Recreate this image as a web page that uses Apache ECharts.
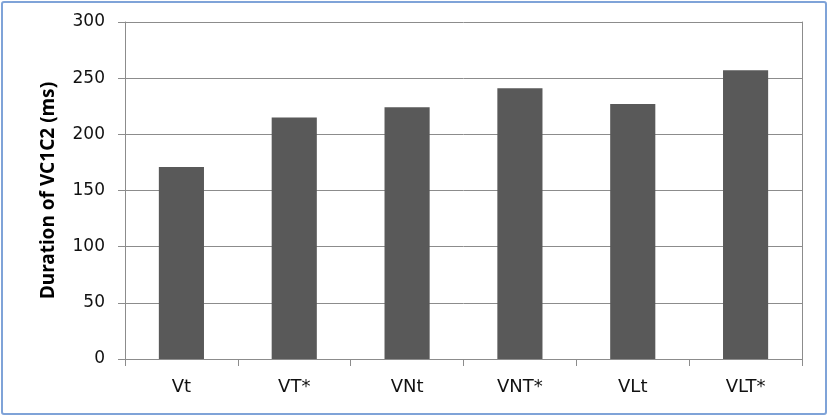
<!DOCTYPE html>
<html>
<head>
<meta charset="utf-8">
<script src="https://cdn.jsdelivr.net/npm/echarts@6/dist/echarts.min.js"></script>
<style>
html,body{margin:0;padding:0;background:#fff;}
#c{width:827px;height:415px;}
#frame{position:absolute;left:1px;top:1px;width:822px;height:410px;border:2px solid #7fa3d8;border-radius:3px;pointer-events:none;}
</style>
</head>
<body>
<div id="c"></div>
<div id="frame"></div>
<script>
const categories = ['Vt', 'VT*', 'VNt', 'VNT*', 'VLt', 'VLT*'];
const durations = [171, 215, 224, 241, 227, 257];
const yTitle = 'Duration of VC1C2 (ms)';

const chart = echarts.init(document.getElementById('c'));
chart.setOption({
  animation: false,
  grid: {left: 125, right: 25, top: 22, bottom: 56},
  xAxis: {
    type: 'category',
    data: categories,
    axisLine: {lineStyle: {color: '#8c8c8c', width: 1}},
    axisTick: {show: true, length: 7, lineStyle: {color: '#8c8c8c'}},
    axisLabel: {color: '#111', fontFamily: 'DejaVu Sans', fontSize: 18, margin: 19}
  },
  yAxis: [{
    type: 'value',
    min: 0, max: 300, interval: 50,
    name: yTitle,
    nameLocation: 'middle',
    nameGap: 67,
    nameTextStyle: {color: '#000', fontFamily: 'Noto Sans', fontWeight: 'bold', fontSize: 19},
    axisLine: {show: true, lineStyle: {color: '#8c8c8c'}},
    axisTick: {show: true, length: 7, lineStyle: {color: '#8c8c8c'}},
    axisLabel: {color: '#111', fontFamily: 'DejaVu Sans', fontSize: 17, margin: 20},
    splitLine: {show: true, lineStyle: {color: '#8c8c8c'}}
  }, {
    type: 'value',
    position: 'right',
    min: 0, max: 300, interval: 50,
    axisLine: {show: true, lineStyle: {color: '#8c8c8c'}},
    axisTick: {show: false},
    axisLabel: {show: false},
    splitLine: {show: false}
  }],
  series: [{
    type: 'bar',
    data: durations,
    barWidth: '40%',
    itemStyle: {color: '#595959'}
  }]
});
</script>
</body>
</html>
